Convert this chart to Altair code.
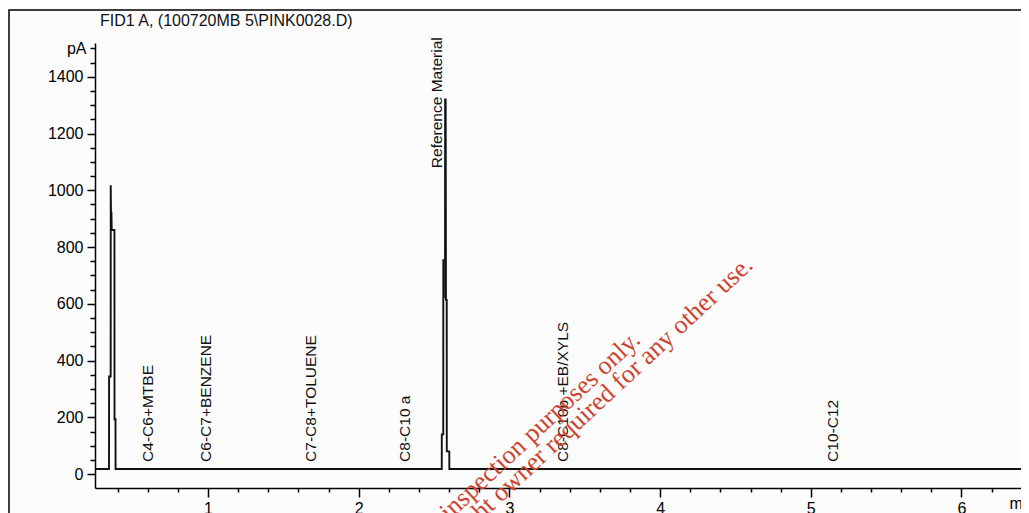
import altair as alt
import pandas as pd

# ---------------- data ----------------
title_text = "FID1 A,  (100720MB 5\\PINK0028.D)"

# chromatogram trace (retention time in min, signal in pA)
trace_time = [0.25, 0.343, 0.3435, 0.354, 0.3545, 0.356, 0.358, 0.359, 0.361, 0.379, 0.3795, 0.386, 0.3865,
              2.551, 2.5515, 2.561, 2.5615, 2.573, 2.5735, 2.575, 2.577, 2.579, 2.584, 2.5845, 2.601, 2.6015,
              6.448]
trace_signal = [18, 18, 344, 344, 1018, 925, 860, 925, 860, 860, 193, 193, 18,
                18, 140, 140, 754, 754, 1323, 620, 1323, 614, 614, 80, 80, 18,
                18]

# peak / window labels
label_names = ["C4-C6+MTBE", "C6-C7+BENZENE", "C7-C8+TOLUENE", "C8-C10 a",
               "Reference Material", "C8-C10b +EB/XYLS", "C10-C12"]
label_time = [0.602, 0.987, 1.683, 2.307, 2.52, 3.356, 5.147]
label_y = [43, 43, 43, 43, 1078, 43, 43]

# axes ticks
x_ticks = [0.4, 0.6, 0.8, 1, 1.2, 1.4, 1.6, 1.8, 2, 2.2, 2.4, 2.6, 2.8, 3, 3.2, 3.4, 3.6, 3.8,
           4, 4.2, 4.4, 4.6, 4.8, 5, 5.2, 5.4, 5.6, 5.8, 6, 6.2, 6.4]
y_ticks = [0, 50, 100, 150, 200, 250, 300, 350, 400, 450, 500, 550, 600, 650, 700, 750, 800,
           850, 900, 950, 1000, 1050, 1100, 1150, 1200, 1250, 1300, 1350, 1400, 1450, 1500]
x_domain = [0.25, 6.448]
y_domain = [-49, 1519]

watermark_lines = ["For inspection purposes only.",
                   "Consent of copyright owner required for any other use."]

FONT = "Liberation Sans"

trace_df = pd.DataFrame({"t": trace_time, "s": trace_signal, "i": list(range(len(trace_time)))})
label_df = pd.DataFrame({"name": label_names, "t": label_time, "y": label_y})

xscale = alt.Scale(domain=x_domain, nice=False, zero=False)
yscale = alt.Scale(domain=y_domain, nice=False, zero=False)

x_axis = alt.Axis(
    values=x_ticks, tickCount=500, title=None, grid=False,
    labelExpr="datum.value == 6.4 ? 'min' : (datum.value % 1 === 0 ? format(datum.value, 'd') : '')",
    tickSize={"condition": {"test": "datum.value % 1 === 0", "value": 9}, "value": 4},
    labelOverlap=False, labelFlush=False, labelBound=False,
    labelFont=FONT, labelFontSize=16, labelColor="black", labelPadding=3,
    domainColor="black", domainWidth=1.5, tickColor="black", tickWidth=1.5,
)
y_axis = alt.Axis(
    values=y_ticks, tickCount=500, title=None, grid=False,
    labelExpr="datum.value == 1500 ? 'pA' : (datum.value % 200 === 0 ? format(datum.value, 'd') : '')",
    tickSize={"condition": {"test": "datum.value % 200 === 0", "value": 8}, "value": 5},
    labelOverlap=False, labelFlush=False, labelBound=False,
    labelFont=FONT, labelFontSize=16, labelColor="black", labelPadding=4,
    domainColor="black", domainWidth=1.5, tickColor="black", tickWidth=1.5,
)

trace = alt.Chart(trace_df).mark_line(color="#111", strokeWidth=1.9, interpolate="linear").encode(
    x=alt.X("t:Q", scale=xscale, axis=x_axis),
    y=alt.Y("s:Q", scale=yscale, axis=y_axis),
    order="i:Q",
)

labels = alt.Chart(label_df).mark_text(
    angle=270, align="left", baseline="middle", font=FONT, fontSize=15.5, color="#111"
).encode(
    x=alt.X("t:Q", scale=xscale),
    y=alt.Y("y:Q", scale=yscale),
    text="name:N",
)

title = alt.Chart(pd.DataFrame({"txt": [title_text]})).mark_text(
    align="left", baseline="alphabetic", font=FONT, fontSize=16, color="#111"
).encode(x=alt.value(5), y=alt.value(-17), text="txt:N")

frame = alt.Chart(pd.DataFrame({"k": [0]})).mark_rect(
    filled=False, stroke="black", strokeWidth=1.5
).encode(x=alt.value(-86), x2=alt.value(1100), y=alt.value(-33), y2=alt.value(700))

WM_COLOR = "#cc4430"
wm1 = alt.Chart(pd.DataFrame({"txt": [watermark_lines[0]]})).mark_text(
    angle=317, align="center", baseline="alphabetic", font="Liberation Serif", fontSize=26, color=WM_COLOR
).encode(x=alt.value(435), y=alt.value(403), text="txt:N")
wm2 = alt.Chart(pd.DataFrame({"txt": [watermark_lines[1]]})).mark_text(
    angle=317, align="center", baseline="alphabetic", font="Liberation Serif", fontSize=26, color=WM_COLOR
).encode(x=alt.value(450), y=alt.value(419), text="txt:N")

chart = alt.layer(frame, trace, labels, title, wm1, wm2).properties(
    width=934, height=445,
    autosize=alt.AutoSizeParams(type="none"),
    padding={"left": 87, "top": 35, "right": -8, "bottom": 25},
    background="#fcfcfc",
).configure_view(stroke=None)

chart.save("out.html", embed_options={"renderer": "svg", "actions": False})
